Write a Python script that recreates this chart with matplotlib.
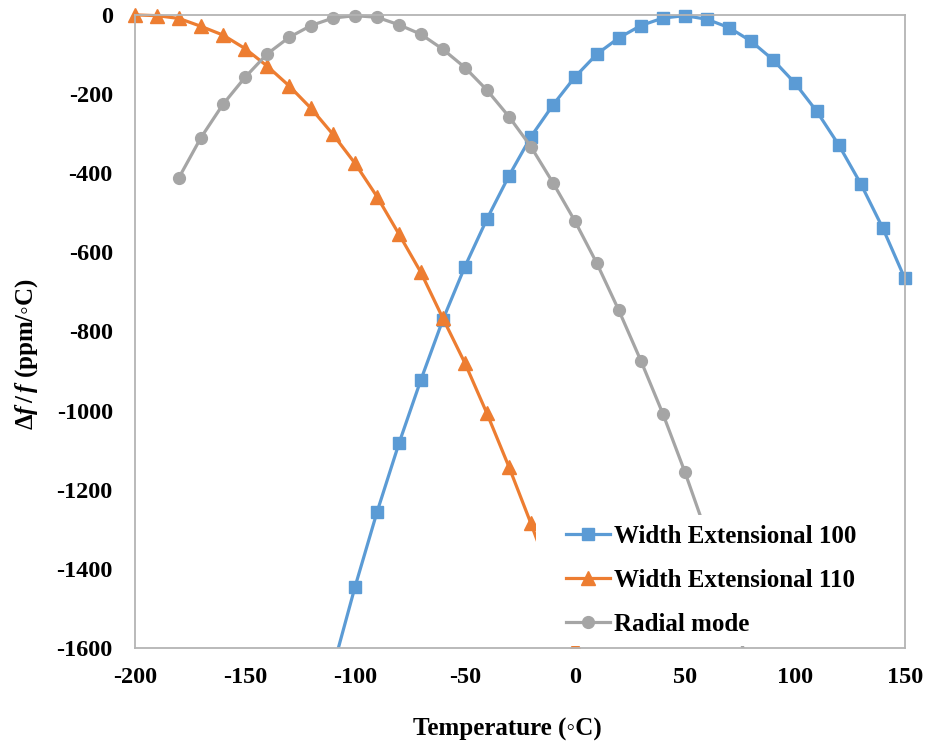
# Frequency drift vs temperature for three resonance modes
import matplotlib.pyplot as plt
from matplotlib.patches import Rectangle

# Temperatures (deg C) and drift (ppm)
temp_we100 = [-110, -100, -90, -80, -70, -60, -50, -40, -30, -20, -10, 0, 10,
              20, 30, 40, 50, 60, 70, 80, 90, 100, 110, 120, 130, 140, 150]
drift_we100 = [-1650, -1446, -1257, -1083, -922, -770, -636, -516, -407, -308,
               -228, -157, -99, -58, -27, -8, -2, -11, -32, -66, -113, -172,
               -244, -329, -427, -539, -666]

temp_we110 = [-200, -190, -180, -170, -160, -150, -140, -130, -120, -110, -100,
              -90, -80, -70, -60, -50, -40, -30, -20, -10, 0, 10]
drift_we110 = [0, -2, -9, -29, -51, -85, -129, -179, -236, -302, -375, -459,
               -554, -651, -767, -880, -1007, -1142, -1285, -1436, -1595, -1760]

temp_radial = [-180, -170, -160, -150, -140, -130, -120, -110, -100, -90, -80,
               -70, -60, -50, -40, -30, -20, -10, 0, 10, 20, 30, 40, 50, 60,
               70, 80]
drift_radial = [-411, -310, -226, -158, -99, -57, -27, -8, -2, -6, -25, -49,
                -87, -133, -190, -257, -333, -424, -521, -628, -747, -874,
                -1008, -1155, -1313, -1483, -1665]

x_ticks = [-200, -150, -100, -50, 0, 50, 100, 150]
y_ticks = [0, -200, -400, -600, -800, -1000, -1200, -1400, -1600]

plt.rcParams['font.family'] = ['Liberation Serif', 'DejaVu Serif']
plt.rcParams['font.weight'] = 'bold'
plt.rcParams['axes.unicode_minus'] = False
plt.rcParams['mathtext.fontset'] = 'custom'
plt.rcParams['mathtext.it'] = 'Liberation Serif:italic:bold'
plt.rcParams['mathtext.rm'] = 'Liberation Serif:bold'

fig = plt.figure(figsize=(9.28, 7.44), dpi=100)
ax = fig.add_axes([0.1455, 0.129, 0.8295, 0.851])

# clip a bit outside the left/right/top edges so end markers stay whole
clip = Rectangle((-0.03, 0), 1.06, 1.04, transform=ax.transAxes,
                 facecolor='none', edgecolor='none')

l1, = ax.plot(temp_we100, drift_we100, color='#5B9BD5', lw=2.3, marker='s',
              markersize=8.5, label='Width Extensional 100')
l2, = ax.plot(temp_we110, drift_we110, color='#ED7D31', lw=2.3, marker='^',
              markersize=9.5, label='Width Extensional 110')
l3, = ax.plot(temp_radial, drift_radial, color='#A5A5A5', lw=2.3, marker='o',
              markersize=8.5, label='Radial mode')
for ln in (l1, l2, l3):
    ln.set_clip_path(clip)

ax.set_xlim(-200, 150)
ax.set_ylim(-1600, 0)
ax.set_xticks(x_ticks)
ax.set_yticks(y_ticks)
ax.tick_params(length=0, labelsize=17.5)
ax.tick_params(axis='x', pad=14)
ax.tick_params(axis='y', pad=16)

for sp in ax.spines.values():
    sp.set_color('#B4B4B4')
    sp.set_linewidth(1.3)

ax.set_xlabel('Temperature (◦C)', fontsize=18, fontweight='bold')
ax.set_ylabel(r'$\mathit{Δf\,/\,f}$ (ppm/◦C)', fontsize=18, fontweight='bold')
ax.xaxis.set_label_coords(0.484, -0.111)
ax.yaxis.set_label_coords(-0.123, 0.464)

# the legend box in the original is wider on the left than matplotlib's pad
ax.add_patch(Rectangle((0.521, 0.004), 0.06, 0.21, transform=ax.transAxes,
                       facecolor='white', edgecolor='none', zorder=4))

leg = ax.legend(loc='lower left', bbox_to_anchor=(0.544, 0.0), fontsize=18,
                frameon=True, facecolor='white', edgecolor='none',
                framealpha=1, fancybox=False, borderpad=0.4,
                labelspacing=0.84, handlelength=1.75, handletextpad=0.15,
                borderaxespad=0.1)

fig.savefig('out.png', dpi=100)
